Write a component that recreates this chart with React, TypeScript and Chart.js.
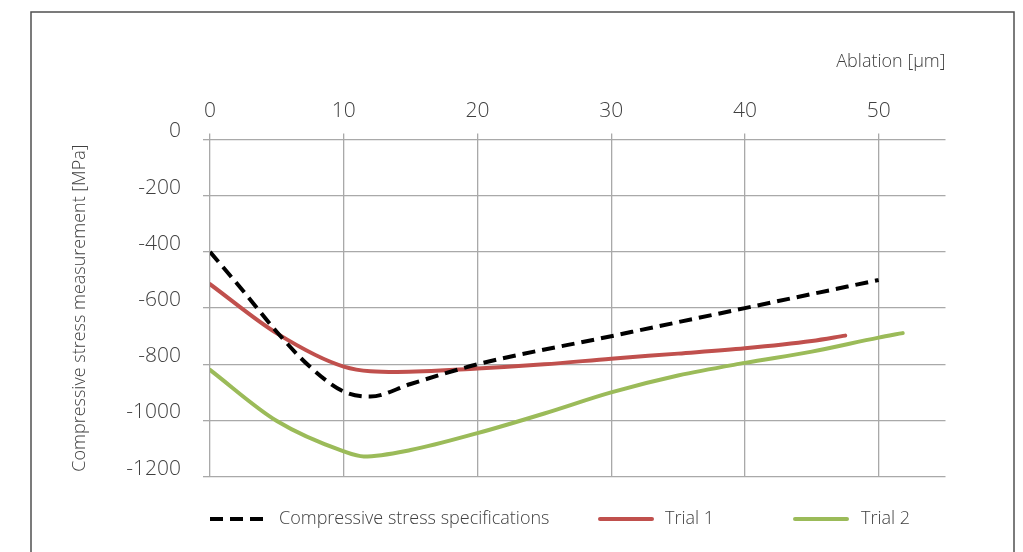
import React, { useEffect, useRef } from "react";
import { Chart, registerables } from "chart.js";

Chart.register(...registerables);

const xTicks = [0, 10, 20, 30, 40, 50];
const yTicks = [0, -200, -400, -600, -800, -1000, -1200];

const specX = [0, 2.5, 5, 7.5, 10, 12, 15, 20, 30, 40, 50];
const specY = [-400, -540, -685, -810, -897, -915, -870, -800, -700, -600, -500];

const trial1X = [0, 5, 10, 14, 20, 25, 30, 35, 40, 45, 47.5];
const trial1Y = [-515, -690, -808, -827, -815, -800, -780, -762, -743, -717, -698];

const trial2X = [0, 5, 10, 11.5, 15, 20, 25, 30, 35, 40, 45, 50, 51.8];
const trial2Y = [-820, -1002, -1110, -1128, -1105, -1045, -975, -900, -840, -795, -755, -705, -689];

const seriesLabels = ["Compressive stress specifications", "Trial 1", "Trial 2"];
const xTitle = "Ablation [µm]";
const yTitle = "Compressive stress measurement [MPa]";

const FONT = "'Open Sans', sans-serif";
const TEXT = "#404040";
const GRID = "#a9a9a9";
const W = "350";

const toPts = (xs: number[], ys: number[]) => xs.map((x, i) => ({ x, y: ys[i] }));

export default function App() {
  const ref = useRef<HTMLCanvasElement | null>(null);
  useEffect(() => {
    if (!ref.current) return;
    const framePlugin = {
      id: "frame",
      beforeDraw(chart: any) {
        const ctx = chart.ctx;
        ctx.save();
        ctx.strokeStyle = "#505050";
        ctx.lineWidth = 1.5;
        ctx.strokeRect(31, 12, 983, 620);
        ctx.restore();
      },
      afterDraw(chart: any) {
        const ctx = chart.ctx;
        ctx.save();
        const y = 519;
        const items = [
          { x0: 210, x1: 265, tx: 279 },
          { x0: 598, x1: 654, tx: 665 },
          { x0: 793, x1: 849, tx: 861 },
        ];
        chart.data.datasets.forEach((ds: any, i: number) => {
          const it = items[i];
          ctx.beginPath();
          ctx.strokeStyle = ds.borderColor;
          ctx.lineWidth = 4;
          ctx.setLineDash(ds.borderDash || []);
          ctx.lineCap = ds.borderDash ? "butt" : "round";
          ctx.moveTo(it.x0 + (ds.borderDash ? 0 : 2), y);
          ctx.lineTo(it.x1 - (ds.borderDash ? 0 : 2), y);
          ctx.stroke();
          ctx.setLineDash([]);
          ctx.fillStyle = TEXT;
          ctx.font = `${W} 18px ${FONT}`;
          ctx.textBaseline = "middle";
          ctx.textAlign = "left";
          ctx.fillText(ds.label, it.tx, y);
        });
        ctx.restore();
      },
    };
    const tickFont = { family: FONT, size: 21, weight: W };
    const chart = new Chart(ref.current, {
      type: "line",
      data: {
        datasets: [
          {
            label: seriesLabels[0],
            data: toPts(specX, specY),
            borderColor: "#000000",
            borderWidth: 4,
            borderDash: [13, 7],
            pointRadius: 0,
            cubicInterpolationMode: "monotone",
          },
          {
            label: seriesLabels[1],
            data: toPts(trial1X, trial1Y),
            borderColor: "#c0504d",
            borderWidth: 4,
            borderCapStyle: "round",
            pointRadius: 0,
            cubicInterpolationMode: "monotone",
          },
          {
            label: seriesLabels[2],
            data: toPts(trial2X, trial2Y),
            borderColor: "#9bbb59",
            borderWidth: 4,
            borderCapStyle: "round",
            pointRadius: 0,
            cubicInterpolationMode: "monotone",
          },
        ],
      },
      options: {
        animation: false,
        responsive: false,
        maintainAspectRatio: false,
        layout: { padding: { left: 69, top: 51, right: 77.5, bottom: 75.3 } },
        plugins: { legend: { display: false }, tooltip: { enabled: false } },
        scales: {
          x: {
            type: "linear",
            position: "top",
            min: 0,
            max: 55,
            afterBuildTicks: (s: any) => {
              s.ticks = xTicks.map((v) => ({ value: v }));
            },
            afterFit: (s: any) => {
              s.height = 88.5;
            },
            border: { display: false },
            grid: { color: GRID, lineWidth: 1.3, tickLength: 6, drawTicks: true },
            ticks: {
              color: TEXT,
              font: tickFont,
              padding: 10,
              maxRotation: 0,
              callback: (v: any) => String(v),
            },
            title: {
              display: true,
              text: xTitle,
              align: "end",
              color: TEXT,
              font: { family: FONT, size: 18, weight: W },
              padding: 0,
            },
          },
          y: {
            type: "linear",
            min: -1200,
            max: 0,
            afterBuildTicks: (s: any) => {
              s.ticks = yTicks.map((v) => ({ value: v }));
            },
            afterFit: (s: any) => {
              s.width = 141;
            },
            border: { display: false },
            grid: { color: GRID, lineWidth: 1.3, tickLength: 7, drawTicks: true },
            ticks: {
              color: TEXT,
              font: tickFont,
              padding: 22,
              labelOffset: -8,
              callback: (v: any) => String(v),
            },
            title: {
              display: true,
              text: yTitle,
              color: TEXT,
              font: { family: FONT, size: 18, weight: W },
              padding: 0,
            },
          },
        },
      },
      plugins: [framePlugin],
    } as any);
    return () => chart.destroy();
  }, []);
  return (
    <div style={{ position: "fixed", left: 0, top: 0, width: 1023, height: 552, background: "#fff" }}>
      <canvas ref={ref} width={1023} height={552} style={{ width: 1023, height: 552, display: "block" }} />
    </div>
  );
}
